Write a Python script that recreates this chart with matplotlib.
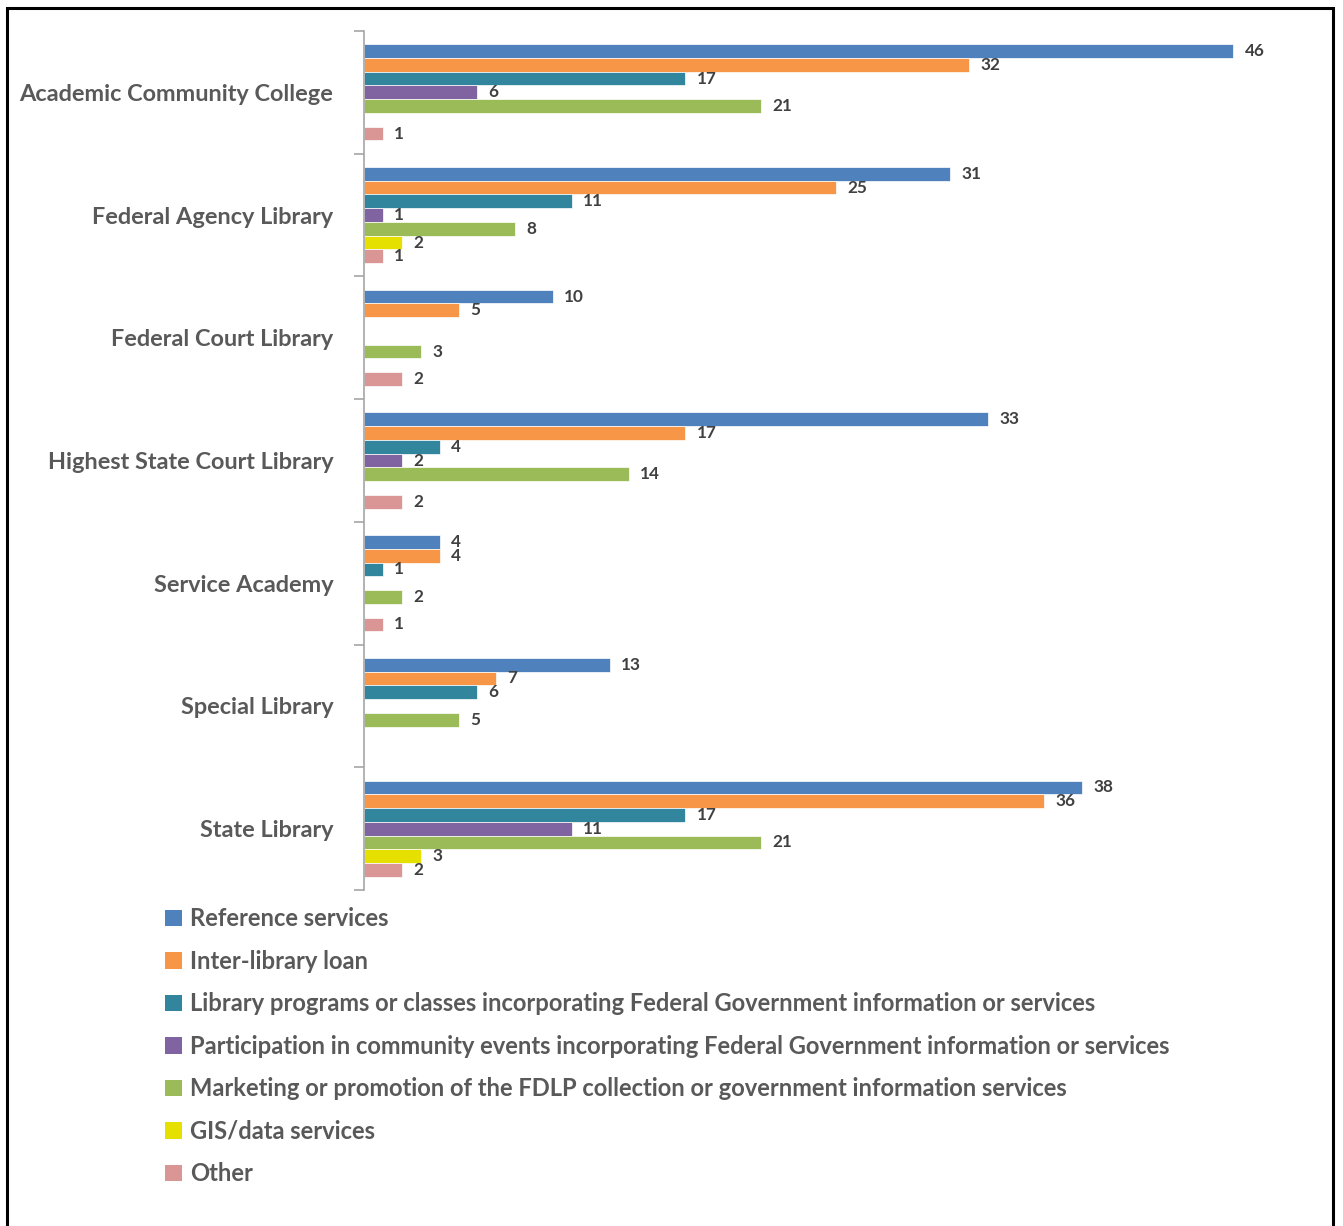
import numpy as np
import matplotlib
matplotlib.use("Agg")
import matplotlib.pyplot as plt
from matplotlib.patches import Rectangle, Patch

plt.rcParams['font.family'] = ['Lato', 'DejaVu Sans']

categories = ["Academic Community College", "Federal Agency Library", "Federal Court Library",
              "Highest State Court Library", "Service Academy", "Special Library", "State Library"]
series = ["Reference services", "Inter-library loan",
          "Library programs or classes incorporating Federal Government information or services",
          "Participation in community events incorporating Federal Government information or services",
          "Marketing or promotion of the FDLP collection or government information services",
          "GIS/data services", "Other"]
colors = ["#4F81BD", "#F79646", "#31859C", "#8064A2", "#9BBB59", "#E6E000", "#D99694"]

reference = [46, 31, 10, 33, 4, 13, 38]
interlibrary = [32, 25, 5, 17, 4, 7, 36]
programs = [17, 11, 0, 4, 1, 6, 17]
community = [6, 1, 0, 2, 0, 0, 11]
marketing = [21, 8, 3, 14, 2, 5, 21]
gis = [0, 2, 0, 0, 0, 0, 3]
other = [1, 1, 2, 2, 1, 0, 2]
values = [reference, interlibrary, programs, community, marketing, gis, other]

W, H = 1343, 1226
fig = plt.figure(figsize=(W / 100, H / 100), dpi=100)
ax = fig.add_axes([364 / W, 1 - 890 / H, (1310 - 364) / W, (890 - 31) / H])

n = len(series)
bh = 0.112
y = np.arange(len(categories))
for i, (name, vals, c) in enumerate(zip(series, values, colors)):
    pos = y + (i - (n - 1) / 2) * bh
    vals = np.array(vals)
    mask = vals > 0
    ax.barh(pos[mask], vals[mask], height=bh, color=c, edgecolor='white', linewidth=0.5, label=name)
    for p, v in zip(pos[mask], vals[mask]):
        ax.text(v + 0.6, p, str(v), va='center', ha='left', fontsize=12.3,
                fontweight='bold', color='#404040')

ax.set_xlim(0, (1310 - 364) / 18.9)
ax.set_ylim(len(categories) - 0.5, -0.5)
ax.set_xticks([])
ax.set_yticks(y)
ax.set_yticklabels(categories, fontsize=16.9, fontweight='bold', color='#595959')
ax.tick_params(axis='y', which='major', length=0, pad=22)
ax.set_yticks(np.arange(-0.5, len(categories)), minor=True)
ax.tick_params(axis='y', which='minor', length=7, color='#A6A6A6', width=1.2)
for s in ['top', 'right', 'bottom']:
    ax.spines[s].set_visible(False)
ax.spines['left'].set_color('#A6A6A6')
ax.spines['left'].set_linewidth(1.2)

handles = [Patch(facecolor=c, edgecolor='none') for c in colors]
fig.legend(handles, series, loc='upper left', bbox_to_anchor=(144 / W, 1 - 886 / H),
           frameon=False, ncol=1, handlelength=0.7, handleheight=0.7, handletextpad=0.35,
           labelspacing=0.82, prop={'size': 17.1, 'weight': 'bold'}, labelcolor='#595959')

fig.patches.append(Rectangle((7 / W, -0.01), (1333 - 7) / W, 1 - 8 / H + 0.01,
                             transform=fig.transFigure, fill=False, edgecolor='black', linewidth=2.2))

fig.savefig("out.png", dpi=100)
